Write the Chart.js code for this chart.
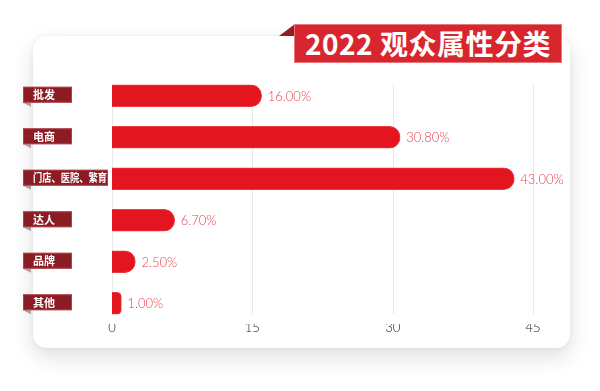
<!DOCTYPE html>
<html>
<head>
<meta charset="utf-8">
<script src="https://cdn.jsdelivr.net/npm/chart.js@4.4.0/dist/chart.umd.min.js"></script>
<style>
  body { margin: 0; background: #fff; }
  #wrap { position: relative; width: 600px; height: 391px; overflow: hidden; }
  #card {
    position: absolute; left: 33px; top: 36px; width: 537px; height: 312px;
    background: #fff; border-radius: 14px;
    box-shadow: 0 9px 22px rgba(0,0,0,0.13), 0 0 6px rgba(0,0,0,0.05);
  }
  #fold {
    position: absolute; left: 279px; top: 24px; width: 16px; height: 12px;
    background: #951a21; clip-path: polygon(0 100%, 100% 0, 100% 100%);
  }
  #title {
    position: absolute; left: 294px; top: 24px; width: 266px; height: 37px;
    background: #d8262e; border: 1px solid #e9777c;
    color: #fff; font: bold 28px "Noto Sans CJK SC", sans-serif;
    line-height: 37px; text-align: center; letter-spacing: 0.5px;
  }
  canvas { position: absolute; left: 0; top: 0; }
</style>
</head>
<body>
<div id="wrap">
  <div id="card"></div>
  <div id="fold"></div>
  <div id="title">2022 观众属性分类</div>
  <canvas id="myChart" width="600" height="391"></canvas>
</div>
<script>
var categorias = ['批发', '电商', '门店、医院、繁育', '达人', '品牌', '其他'];
var porcentajes = [16.00, 30.80, 43.00, 6.70, 2.50, 1.00];
var ticksX = [0, 15, 30, 45];

// etiquetas a la izquierda (cajas rojo oscuro) y valores
var etiquetasPlugin = {
    id: 'etiquetas',
    beforeDatasetsDraw: function(chart) {
        var ctx = chart.ctx;
        var x = chart.scales.x;
        var area = chart.chartArea;
        ctx.save();
        ctx.strokeStyle = '#e8e8e8';
        ctx.lineWidth = 1;
        ticksX.forEach(function(v) {
            var px = Math.round(x.getPixelForValue(v)) + 0.5;
            ctx.beginPath();
            ctx.moveTo(px, area.top + 10);
            ctx.lineTo(px, area.bottom - 10);
            ctx.stroke();
        });
        ctx.restore();
    },
    afterDatasetsDraw: function(chart) {
        var ctx = chart.ctx;
        var y = chart.scales.y;
        var meta = chart.getDatasetMeta(0);
        ctx.save();
        ctx.font = 'bold 11px "Noto Sans CJK SC", sans-serif';
        chart.data.labels.forEach(function(lbl, i) {
            var cy = y.getPixelForValue(i) - 1;
            var tw = Math.min(74, ctx.measureText(lbl).width);
            var w = Math.max(49, tw + 11);
            // doblez gris
            ctx.fillStyle = '#a3a3a3';
            ctx.beginPath();
            ctx.moveTo(23, cy + 8);
            ctx.lineTo(31, cy + 8);
            ctx.lineTo(31, cy + 12);
            ctx.closePath();
            ctx.fill();
            ctx.fillStyle = '#8c1c24';
            ctx.fillRect(23, cy - 8, w, 16);
            ctx.strokeStyle = 'rgba(200,90,95,0.6)';
            ctx.lineWidth = 1;
            ctx.strokeRect(23.5, cy - 7.5, w - 1, 15);
            ctx.fillStyle = '#fff';
            ctx.textBaseline = 'middle';
            ctx.textAlign = 'left';
            ctx.fillText(lbl, 33, cy + 0.5, 74);
        });
        ctx.font = '300 13px Lato, sans-serif';
        ctx.fillStyle = '#e8434c';
        ctx.textBaseline = 'middle';
        meta.data.forEach(function(bar, i) {
            ctx.fillText(porcentajes[i].toFixed(2) + '%', bar.x + 6, bar.y + 1);
        });
        ctx.restore();
    }
};

var ctx = document.getElementById('myChart').getContext('2d');
var myChart = new Chart(ctx, {
    type: 'bar',
    data: {
        labels: categorias,
        datasets: [{
            label: '观众属性',
            data: porcentajes,
            backgroundColor: '#e3151f',
            borderColor: '#ea3a42',
            borderWidth: 1,
            borderSkipped: 'start',
            borderRadius: 11,
            barThickness: 22
        }]
    },
    options: {
        indexAxis: 'y',
        responsive: false,
        animation: false,
        layout: {
            padding: { left: 112, right: 67, top: 75, bottom: 47 }
        },
        plugins: {
            legend: { display: false },
            tooltip: { enabled: false }
        },
        scales: {
            x: {
                min: 0,
                max: 45,
                border: { display: false },
                grid: { display: false, drawTicks: false },
                afterFit: function(scale) { scale.height = 20; },
                afterBuildTicks: function(scale) {
                    scale.ticks = ticksX.map(function(v) { return { value: v }; });
                },
                ticks: {
                    padding: -4,
                    color: '#222',
                    font: { family: 'Lato', size: 13, weight: '300' }
                }
            },
            y: {
                display: false
            }
        }
    },
    plugins: [etiquetasPlugin]
});
</script>
</body>
</html>
